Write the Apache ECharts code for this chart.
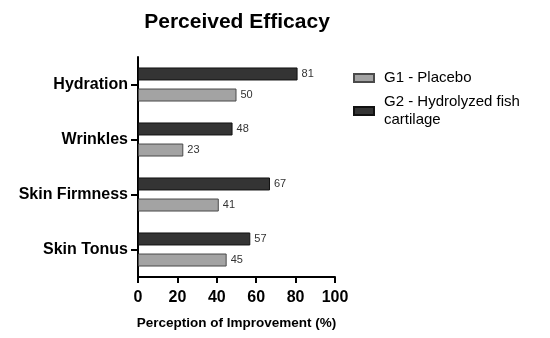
<!DOCTYPE html>
<html>
<head>
<meta charset="utf-8">
<script src="https://cdn.jsdelivr.net/npm/echarts@6/dist/echarts.min.js"></script>
<style>html,body{margin:0;padding:0;background:#fff;}#c{width:550px;height:338px;}</style>
</head>
<body>
<div id="c"></div>
<script>
const categories = ['Skin Tonus', 'Skin Firmness', 'Wrinkles', 'Hydration'];
const placebo = [45, 41, 23, 50];
const fishCartilage = [57, 67, 48, 81];
const xTicks = [0, 20, 40, 60, 80, 100];
const seriesNames = ['G1 - Placebo', 'G2 - Hydrolyzed fish\ncartilage'];

const FONT = '"Liberation Sans", Arial, Helvetica, sans-serif';
const chart = echarts.init(document.getElementById('c'));
chart.setOption({
  animation: false,
  backgroundColor: '#ffffff',
  title: {
    text: 'Perceived Efficacy',
    left: 237, top: 12, padding: 0, textAlign: 'center',
    textStyle: { fontFamily: FONT, fontWeight: 'bold', fontSize: 21, color: '#000' }
  },
  legend: {
    orient: 'vertical',
    left: 353, top: 69, padding: 0,
    icon: 'rect',
    itemWidth: 20, itemHeight: 8, itemGap: 6,
    textStyle: { fontFamily: FONT, fontSize: 15, color: '#000', lineHeight: 18, padding: [0, 0, 0, 5] },
    data: seriesNames
  },
  grid: { left: 138, top: 57, width: 197, height: 220, containLabel: false, outerBoundsMode: 'none' },
  xAxis: {
    type: 'value', min: xTicks[0], max: xTicks[xTicks.length - 1], interval: 20,
    name: 'Perception of Improvement (%)', nameLocation: 'middle', nameGap: 39,
    nameTextStyle: { fontFamily: FONT, fontWeight: 'bold', fontSize: 13.5, color: '#000' },
    axisLine: { show: true, lineStyle: { color: '#000', width: 2 } },
    axisTick: { show: true, length: 6, lineStyle: { color: '#000', width: 2 } },
    axisLabel: { fontFamily: FONT, fontWeight: 'bold', fontSize: 16, color: '#000', margin: 13 },
    splitLine: { show: false }
  },
  yAxis: {
    type: 'category', data: categories,
    axisLine: { show: true, lineStyle: { color: '#000', width: 2 } },
    axisTick: { show: true, alignWithLabel: true, length: 7, lineStyle: { color: '#000', width: 2 } },
    axisLabel: { fontFamily: FONT, fontWeight: 'bold', fontSize: 16, color: '#000', margin: 10 }
  },
  series: [
    {
      name: seriesNames[1], type: 'bar', data: fishCartilage,
      barWidth: 13, barGap: '62%',
      itemStyle: { color: '#343434', borderColor: '#111', borderWidth: 1 },
      label: { show: true, position: 'right', distance: 4, fontFamily: FONT, fontSize: 11, color: '#333' }
    },
    {
      name: seriesNames[0], type: 'bar', data: placebo,
      barWidth: 13, barGap: '62%',
      itemStyle: { color: '#a3a3a3', borderColor: '#4a4a4a', borderWidth: 1 },
      label: { show: true, position: 'right', distance: 4, fontFamily: FONT, fontSize: 11, color: '#333' }
    }
  ]
});
</script>
</body>
</html>
